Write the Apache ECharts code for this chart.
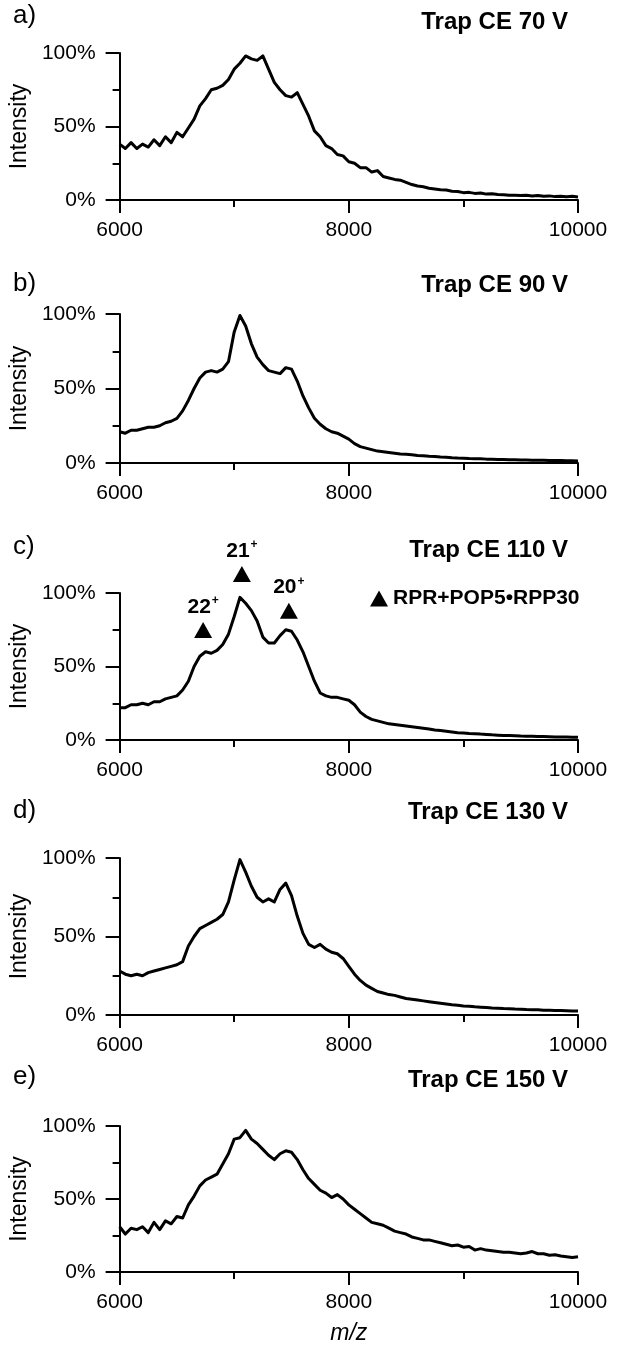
<!DOCTYPE html>
<html>
<head>
<meta charset="utf-8">
<style>
html,body{margin:0;padding:0;background:#fff;}
#chart{width:618px;height:1347px;}
</style>
<script src="https://cdn.jsdelivr.net/npm/echarts@6/dist/echarts.min.js"></script>
</head>
<body>
<div id="chart"></div>
<script>
// m/z sampling positions
const mz = [6000,6050,6100,6150,6200,6250,6300,6350,6400,6450,6500,6550,6600,6650,6700,6750,6800,6850,6900,6950,
7000,7050,7100,7150,7200,7250,7300,7350,7400,7450,7500,7550,7600,7650,7700,7750,7800,7850,7900,7950,
8000,8050,8100,8150,8200,8250,8300,8350,8400,8450,8500,8550,8600,8650,8700,8750,8800,8850,8900,8950,
9000,9050,9100,9150,9200,9250,9300,9350,9400,9450,9500,9550,9600,9650,9700,9750,9800,9850,9900,9950,10000];

const ce70 = [38,35,39,35,38,36,41,37,43,39,46,43,49,55,64,69,75,76,78,82,
89,93,98,96,95,98,89,80,75,71,70,73,65,57,47,43,37,35,31,30,
26,25,22,22,19,20,16,15,14,13.5,12,10.5,9.5,9,8,7.5,7,6.8,6,5.8,
5,5.2,4.5,4.8,4,4.3,3.8,3.6,3.2,3.3,3.1,3.2,2.8,3.1,2.5,2.8,2.3,2.6,2.2,2.5,2];

const ce90 = [21,20,22,22,23,24,24,25,27,28,30,35,42,50,57,61,62,61,63,68,
88,99,92,80,71,66,62,61,60,64,63,55,45,37,30,26,23,21,20,18,
16,13,11,10,9,8,7.5,7,6.5,6,5.8,5.5,5,4.8,4.5,4.3,4,3.8,3.5,3.3,
3.2,3,2.9,2.8,2.6,2.5,2.4,2.3,2.2,2.1,2,2,1.9,1.8,1.8,1.7,1.6,1.6,1.5,1.5,1.4];

const ce110 = [22,22,24,24,25,24,26,26,28,29,30,34,40,50,57,60,59,61,65,72,
84,97,93,88,81,70,66,66,71,75,74,68,60,50,40,32,30,29,29,28,
27,24,19,16,14,13,12,11,10.5,10,9.5,9,8.5,8,7.5,6.8,6.5,6,5.5,5,
4.8,4.5,4.3,4,3.8,3.5,3.3,3.1,3,2.9,2.7,2.6,2.5,2.4,2.3,2.2,2.1,2,2,1.9,1.8];

const ce130 = [28,26,25,26,25,27,28,29,30,31,32,34,44,50,55,57,59,61,64,72,
86,99,91,82,75,72,74,72,80,84,76,63,52,45,43,45,42,40,39,36,
31,26,22,19,17,15,14,13,12.5,11.5,10.5,10,9.5,9,8.5,8,7.5,7,6.5,6.2,
5.8,5.5,5.2,5,4.8,4.5,4.3,4.1,4,3.8,3.7,3.5,3.4,3.3,3.1,3,2.9,2.8,2.7,2.6,2.5];

const ce150 = [31,26,30,29,31,27,34,29,35,33,38,37,46,52,59,63,65,67,74,81,
91,92,97,91,88,84,80,77,81,83,82,77,70,64,60,56,54,51,53,50,
46,43,40,37,34,33,32,30,28,27,26,24,23,22,22,21,20,19,18,18.5,
17,17.5,15,16,15,14.5,14,13.5,13.5,13,12.5,13,14,12.5,12.5,11.5,11.8,11,10.5,10,10.5];

const panelLetters = ['a)','b)','c)','d)','e)'];
const panelTitles = ['Trap CE 70 V','Trap CE 90 V','Trap CE 110 V','Trap CE 130 V','Trap CE 150 V'];
const seriesList = [ce70, ce90, ce110, ce130, ce150];

const yTicks = [0, 50, 100];
const xTicks = [6000, 8000, 10000];

// charge-state markers (panel c)
const chargeLabels = ['22', '21', '20'];
const chargeMz = [6729, 7067, 7477];
const chargeY = [74.8, 113, 88];
const legendName = 'RPR+POP5•RPP30';
const xName = 'm/z';
const yName = 'Intensity';

// layout (pixels)
const layout = [
  {top:53, height:147, labelY:17, titleY:23},
  {top:314, height:149, labelY:285, titleY:286},
  {top:593, height:147, labelY:548, titleY:551},
  {top:858, height:157, labelY:812, titleY:813},
  {top:1126, height:146, labelY:1078, titleY:1081}
];

const FONT = '"Liberation Sans", Arial, sans-serif';
const grids = [], xAxes = [], yAxes = [], series = [], graphics = [];

layout.forEach((L, i) => {
  grids.push({left:117, right:40, top:L.top, height:L.height, containLabel:false});
  xAxes.push({
    type:'value', gridIndex:i, min:xTicks[0], max:xTicks[xTicks.length-1], interval:2000,
    name: i === 4 ? xName : '', nameLocation:'middle', nameGap:50,
    nameTextStyle:{fontFamily:FONT, fontSize:23, fontStyle:'italic', color:'#000'},
    axisLine:{show:true, onZero:false, lineStyle:{color:'#000', width:2}},
    axisTick:{show:true, length:13, lineStyle:{color:'#000', width:2}},
    minorTick:{show:true, splitNumber:2, length:7, lineStyle:{color:'#000', width:2}},
    splitLine:{show:false},
    axisLabel:{fontFamily:FONT, fontSize:21, color:'#000', margin:20, formatter:(v) => String(v)}
  });
  yAxes.push({
    type:'value', gridIndex:i, min:yTicks[0], max:yTicks[yTicks.length-1], interval:50,
    name:yName, nameLocation:'middle', nameGap:74, nameRotate:90,
    nameTextStyle:{fontFamily:FONT, fontSize:23, color:'#000'},
    axisLine:{show:true, onZero:false, lineStyle:{color:'#000', width:2}},
    axisTick:{show:true, length:14, lineStyle:{color:'#000', width:2}},
    minorTick:{show:true, splitNumber:2, length:7, lineStyle:{color:'#000', width:2}},
    splitLine:{show:false},
    axisLabel:{fontFamily:FONT, fontSize:21, color:'#000', margin:24, formatter:'{value}%'}
  });
  series.push({
    type:'line', xAxisIndex:i, yAxisIndex:i, showSymbol:false, symbol:'none',
    data: mz.map((x, k) => [x, seriesList[i][k]]),
    lineStyle:{color:'#000', width:3, join:'round'}, silent:true, z:3
  });
  graphics.push({type:'text', left:13, top:L.labelY - 14,
    style:{text:panelLetters[i], font:'26px ' + FONT, fill:'#000'}});
  graphics.push({type:'text', right:50, top:L.titleY - 13,
    style:{text:panelTitles[i], font:'bold 24px ' + FONT, fill:'#000'}});
});

series.push({
  name:legendName, type:'scatter', xAxisIndex:2, yAxisIndex:2, clip:false,
  symbol:'triangle', symbolSize:[18,16], itemStyle:{color:'#000', opacity:1},
  data: chargeMz.map((x, k) => ({
    value:[x, chargeY[k]],
    label:{show:true, position:'top', distance:3,
      formatter:'{n|' + chargeLabels[k] + '}{s|+}',
      rich:{
        n:{fontFamily:FONT, fontSize:21, fontWeight:'bold', color:'#000', lineHeight:24},
        s:{fontFamily:FONT, fontSize:12, fontWeight:'bold', color:'#000', verticalAlign:'top', lineHeight:24, padding:[0,0,12,1]}
      }}
  })),
  z:5
});

const chart = echarts.init(document.getElementById('chart'), null, {renderer:'canvas'});
chart.setOption({
  backgroundColor:'#fff',
  animation:false,
  grid:grids, xAxis:xAxes, yAxis:yAxes, series:series,
  legend:{
    data:[{name:legendName, icon:'triangle', itemStyle:{color:'#000', opacity:1}}], left:370, top:588,
    itemWidth:18, itemHeight:16, itemGap:8, selectedMode:false, padding:0,
    textStyle:{fontFamily:FONT, fontSize:21, fontWeight:'bold', color:'#000'}
  },
  graphic:graphics
});
</script>
</body>
</html>
